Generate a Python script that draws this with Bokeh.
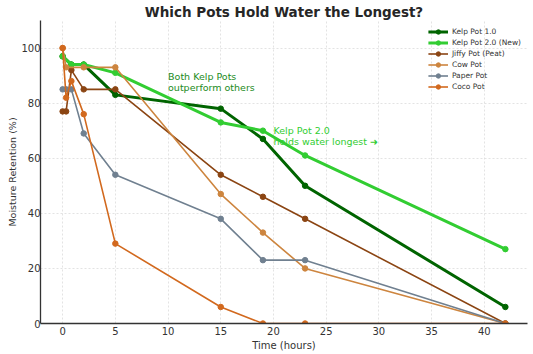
from bokeh.plotting import figure
from bokeh.models import ColumnDataSource, Legend, LegendItem, FixedTicker, Range1d
from bokeh.core.properties import value
from bokeh.embed import file_html
from bokeh.resources import INLINE

FONT = "DejaVu Sans"

# ---- data ----
kelp1_t = [0, 0.83, 2, 5, 15, 19, 23, 42]
kelp1_v = [97, 94, 94, 83, 78, 67, 50, 6]

kelp2_t = [0, 0.83, 2, 5, 15, 19, 23, 42]
kelp2_v = [97, 94, 94, 91, 73, 70, 61, 27]

jiffy_t = [0, 0.33, 0.83, 2, 5, 15, 19, 23, 42]
jiffy_v = [77, 77, 92, 85, 85, 54, 46, 38, 0]

cow_t = [0, 0.33, 2, 5, 15, 19, 23, 42]
cow_v = [100, 93, 93, 93, 47, 33, 20, 0]

paper_t = [0, 0.33, 0.83, 2, 5, 15, 19, 23, 42]
paper_v = [85, 85, 85, 69, 54, 38, 23, 23, 0]

coco_t = [0, 0.33, 0.83, 2, 5, 15, 19, 23, 42]
coco_v = [100, 82, 88, 76, 29, 6, 0, 0, 0]

series_names = ["Kelp Pot 1.0", "Kelp Pot 2.0 (New)", "Jiffy Pot (Peat)",
                "Cow Pot", "Paper Pot", "Coco Pot"]
series_t = [kelp1_t, kelp2_t, jiffy_t, cow_t, paper_t, coco_t]
series_v = [kelp1_v, kelp2_v, jiffy_v, cow_v, paper_v, coco_v]
series_colors = ["#006400", "#32CD32", "#8B4513", "#CD853F", "#708090", "#D2691E"]
series_widths = [3, 3, 1.6, 1.6, 1.6, 1.6]

x_ticks = [0, 5, 10, 15, 20, 25, 30, 35, 40]
y_ticks = [0, 20, 40, 60, 80, 100]

note1_lines = ["Both Kelp Pots", "outperform others"]
note1_x = [10, 10]
note1_y = [89.5, 85.5]

note2_lines = ["Kelp Pot 2.0", "holds water longest \u279c"]
note2_x = [20, 20]
note2_y = [70, 66]

# ---- figure ----
p = figure(width=533, height=354, output_backend="svg", toolbar_location=None,
           x_range=Range1d(-2.1, 44.1), y_range=Range1d(0, 110),
           min_border_left=40, min_border_right=6, min_border_top=20, min_border_bottom=31)

p.title.text = "Which Pots Hold Water the Longest?"
p.title.align = "center"
p.title.text_font = FONT
p.title.text_font_size = "13.5px"
p.title.text_font_style = "bold"
p.title.text_color = "#262626"
p.title.offset = 0
p.title.standoff = 2

p.outline_line_color = None
p.background_fill_color = "white"
p.border_fill_color = "white"

for ax in (p.xaxis[0], p.yaxis[0]):
    ax.axis_line_color = "#333333"
    ax.axis_line_width = 1.3
    ax.major_tick_line_color = None
    ax.minor_tick_line_color = None
    ax.major_tick_out = 0
    ax.major_tick_in = 0
    ax.minor_tick_out = 0
    ax.minor_tick_in = 0
    ax.major_label_text_font = FONT
    ax.major_label_text_font_size = "10px"
    ax.major_label_text_color = "#333333"
    ax.axis_label_text_font = FONT
    ax.axis_label_text_font_size = "10px"
    ax.axis_label_text_font_style = "normal"
    ax.axis_label_text_color = "#333333"

p.xaxis.major_label_standoff = 3
p.xaxis.axis_label_standoff = 2
p.yaxis.major_label_standoff = 0
p.yaxis.axis_label_standoff = 0
p.yaxis.axis_label_text_font_size = "9.5px"

p.xaxis.ticker = FixedTicker(ticks=x_ticks)
p.yaxis.ticker = FixedTicker(ticks=y_ticks)
p.xaxis.axis_label = "Time (hours)"
p.yaxis.axis_label = "Moisture Retention (%)"

for g in (p.xgrid[0], p.ygrid[0]):
    g.grid_line_color = "#dcdcdc"
    g.grid_line_dash = "2 2"
    g.grid_line_width = 0.8

items = []
for name, t, v, c, w in zip(series_names, series_t, series_v, series_colors, series_widths):
    src = ColumnDataSource(dict(t=t, v=v))
    r1 = p.line("t", "v", source=src, line_color=c, line_width=w)
    r2 = p.scatter("t", "v", source=src, size=5.5, fill_color=c, line_color=c)
    items.append(LegendItem(label=name, renderers=[r1, r2]))

legend = Legend(items=items, location="top_right")
legend.border_line_color = None
legend.background_fill_alpha = 0.0
legend.label_text_font = FONT
legend.label_text_font_size = "7.5px"
legend.label_text_color = "#333333"
legend.glyph_width = 20
legend.glyph_height = 11
legend.label_height = 11
legend.spacing = 0
legend.padding = 2
legend.margin = 6
legend.label_standoff = 4
p.add_layout(legend)

p.text(x=note1_x, y=note1_y, text=note1_lines, text_color="#228B22",
       text_font=value(FONT), text_font_size="9.5px", text_baseline="middle", text_align="left")
p.text(x=note2_x, y=note2_y, text=note2_lines, text_color="#32CD32",
       text_font=value(FONT), text_font_size="9.5px", text_baseline="middle", text_align="left")

open("out.html", "w").write(file_html(p, INLINE))
